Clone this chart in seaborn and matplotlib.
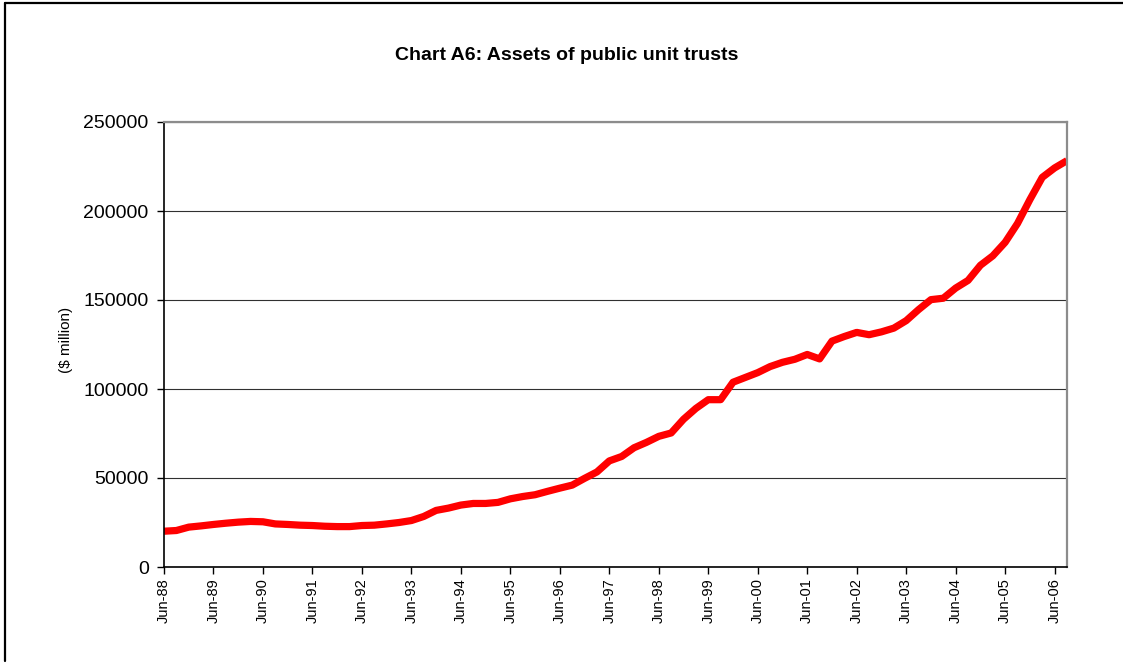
import matplotlib
matplotlib.use("Agg")
import matplotlib.pyplot as plt
from matplotlib.lines import Line2D
import seaborn as sns
import pandas as pd

# ---- data (quarterly, Jun-88 .. Sep-06), $ million ----
assets = [
    20100, 20500, 22400, 23100, 23900, 24600, 25200, 25600,
    25400, 24200, 23900, 23500, 23300, 22900, 22700, 22700,
    23300, 23500, 24200, 25000, 26100, 28400, 31800, 33100,
    34800, 35700, 35700, 36300, 38300, 39600, 40600, 42500,
    44300, 46000, 49800, 53400, 59600, 62100, 67000, 70000,
    73400, 75300, 83000, 89100, 94000, 94000, 103800, 106500,
    109200, 112600, 115000, 116700, 119400, 116900, 126900, 129500,
    131800, 130500, 132100, 134200, 138400, 144600, 150200, 151000,
    156700, 161000, 169500, 174800, 182400, 193000, 206400, 218900,
    224200, 228300,
]
tick_labels = ["Jun-88", "Jun-89", "Jun-90", "Jun-91", "Jun-92", "Jun-93",
               "Jun-94", "Jun-95", "Jun-96", "Jun-97", "Jun-98", "Jun-99",
               "Jun-00", "Jun-01", "Jun-02", "Jun-03", "Jun-04", "Jun-05",
               "Jun-06"]
y_ticks = [0, 50000, 100000, 150000, 200000, 250000]
title = "Chart A6: Assets of public unit trusts"
y_label = "($ million)"

df = pd.DataFrame({"q": range(len(assets)), "assets": assets})

sns.set_theme(style="white")
plt.rcParams["font.family"] = ["Liberation Sans", "DejaVu Sans"]
plt.rcParams["text.color"] = "black"
plt.rcParams["xtick.color"] = "black"
plt.rcParams["ytick.color"] = "black"
plt.rcParams["axes.labelcolor"] = "black"

W, H = 1123, 663
fig = plt.figure(figsize=(W / 100, H / 100), dpi=100)
ax = fig.add_axes([164 / W, 1 - 567 / H, (1067 - 164) / W, (567 - 122) / H])

sns.lineplot(data=df, x="q", y="assets", ax=ax, color="#FF0000",
             linewidth=5.2, solid_joinstyle="round", solid_capstyle="butt")

ax.set_xlim(0, len(assets) - 1)
ax.set_ylim(0, 250000)
ax.set_yticks(y_ticks)
ax.set_yticklabels([str(v) for v in y_ticks], fontsize=14, color="black")
ax.set_xticks(list(range(0, 4 * len(tick_labels), 4)))
ax.set_xticklabels(tick_labels, rotation=90, fontsize=10.5, color="black")

ax.yaxis.grid(True, color="#303030", linewidth=0.8)
ax.xaxis.grid(False)
ax.set_axisbelow(True)

ax.tick_params(axis="y", which="both", left=True, length=5, width=1,
               color="black", pad=6)
ax.tick_params(axis="x", which="both", bottom=True, length=5, width=1,
               color="black", pad=3)

for s in ["left", "bottom"]:
    ax.spines[s].set_color("black")
    ax.spines[s].set_linewidth(1.2)
for s in ["top", "right"]:
    ax.spines[s].set_color("#8c8c8c")
    ax.spines[s].set_linewidth(1.6)

ax.set_xlabel("")
ax.set_ylabel("")
fig.text(66 / W, 1 - 340 / H, y_label, rotation=90, ha="center", va="center",
         fontsize=11, color="black")
fig.text(567 / W, 1 - 55 / H, title, ha="center", va="center",
         fontsize=14, fontweight="bold", color="black")

# outer chart border (top and left visible)
fig.add_artist(Line2D([5 / W, 1.0], [1 - 2.5 / H, 1 - 2.5 / H],
                      transform=fig.transFigure, color="black", linewidth=1.6))
fig.add_artist(Line2D([5 / W, 5 / W], [1 - 2.5 / H, 1 - 661 / H],
                      transform=fig.transFigure, color="black", linewidth=1.6))

fig.savefig("out.png", dpi=100, facecolor="white")
